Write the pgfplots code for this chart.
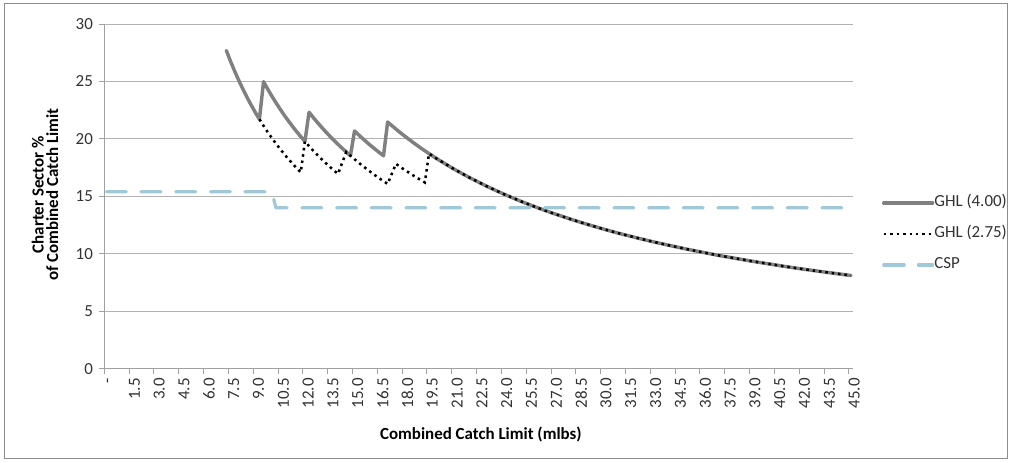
\documentclass[border=0pt]{standalone}
\usepackage{fontspec}
\setmainfont{Carlito}
\usepackage{pgfplots}
\pgfplotsset{compat=1.18}

\definecolor{ghlgray}{RGB}{128,128,128}
\definecolor{cspblue}{RGB}{160,200,216}
\definecolor{gridgray}{RGB}{178,178,178}
\definecolor{axisgray}{RGB}{160,160,160}
\definecolor{framegray}{RGB}{140,140,140}
\definecolor{labelgray}{RGB}{50,50,50}

\newcommand{\chartfont}{\fontsize{12.7}{15}\selectfont}

\begin{document}
\begin{tikzpicture}
\path[use as bounding box] (0,0) rectangle (758.25pt,347.25pt);
\draw[framegray, line width=0.75pt] (3pt,3pt) rectangle (755.25pt,344.25pt);
\begin{axis}[
  at={(78.23pt,70.73pt)}, anchor=south west,
  scale only axis, width=561.5pt, height=258.5pt,
  xmin=-0.125, xmax=45.125, ymin=0, ymax=30,
  axis x line*=bottom, axis y line*=left,
  axis line style={axisgray, line width=0.75pt},
  tick align=outside, major tick length=3.75pt,
  tick style={axisgray, line width=0.75pt},
  xtick={-0.125,1.375,2.875,4.375,5.875,7.375,8.875,10.375,11.875,13.375,14.875,
         16.375,17.875,19.375,20.875,22.375,23.875,25.375,26.875,28.375,29.875,
         31.375,32.875,34.375,35.875,37.375,38.875,40.375,41.875,43.375,44.875},
  xticklabels={-,1.5,3.0,4.5,6.0,7.5,9.0,10.5,12.0,13.5,15.0,16.5,18.0,19.5,21.0,
               22.5,24.0,25.5,27.0,28.5,30.0,31.5,33.0,34.5,36.0,37.5,39.0,40.5,
               42.0,43.5,45.0},
  ytick={0,5,10,15,20,25,30},
  yticklabels={0,5,10,15,20,25,30},
  ymajorgrids, grid style={gridgray, line width=0.75pt},
  tick label style={font=\chartfont, text=labelgray},
  xticklabel style={xshift=4pt, rotate=90, anchor=east},
  yticklabel style={anchor=east, xshift=-1.3pt},
  xlabel={Combined Catch Limit (mlbs)},
  ylabel={Charter Sector \%\\of Combined Catch Limit},
  label style={font=\fontsize{12.7}{11}\selectfont\bfseries, text=black},
  xlabel style={at={(axis description cs:0.503,-0.1923)}, anchor=center},
  ylabel style={at={(axis description cs:-0.0792,0.505)}, anchor=center, align=center},
  legend style={at={(axis description cs:1.0387,0.391)}, anchor=west,
    draw=none, fill=none, inner sep=0pt, font=\chartfont, text=labelgray,
    nodes={inner sep=0pt, text height=9pt, text depth=3pt},
    row sep=11.25pt},
  legend cell align=left,
  legend image code/.code={\path (0pt,0pt) -- (36.5pt,0pt);
    \draw[#1] (0pt,0pt) -- (34pt,0pt);},
]
% guideline harvest level at 4.00 tier
\addplot[ghlgray, line width=2.6pt, line join=round, line cap=round] coordinates {
(7.25,27.70)(7.5,26.77)(7.75,25.91)(8.0,25.10)(8.25,24.34)(8.5,23.62)(8.75,22.95)
(9.0,22.31)(9.25,21.71)
(9.5,24.98)(9.75,24.34)(10.0,23.73)(10.25,23.15)(10.5,22.60)(10.75,22.07)(11.0,21.57)
(11.25,21.09)(11.5,20.63)(11.75,20.20)(12.0,19.78)
(12.25,22.32)(12.5,21.87)(12.75,21.44)(13.0,21.03)(13.25,20.63)(13.5,20.25)(13.75,19.88)
(14.0,19.53)(14.25,19.19)(14.5,18.86)(14.75,18.54)
(15.0,20.69)(15.25,20.35)(15.5,20.02)(15.75,19.70)(16.0,19.39)(16.25,19.10)(16.5,18.81)
(16.75,18.53)
(17.0,21.47)(17.25,21.16)(17.5,20.86)(17.75,20.56)(18.0,20.28)(18.5,19.73)(19.0,19.21)
(19.5,18.72)(20.0,18.25)(21.0,17.38)(22.0,16.59)(23.0,15.87)(24.0,15.21)(25.0,14.60)
(26.0,14.04)(27.0,13.52)(28.0,13.04)(29.0,12.59)(30.0,12.17)(31.0,11.77)(32.0,11.41)
(33.0,11.06)(34.0,10.74)(35.0,10.43)(36.0,10.14)(37.0,9.86)(38.0,9.61)(39.0,9.36)
(40.0,9.13)(41.0,8.90)(42.0,8.69)(43.0,8.49)(44.0,8.30)(45.0,8.11)
};
\addlegendentry{GHL (4.00)}
% guideline harvest level at 2.75 tier
\addplot[black, line width=1.9pt, line cap=butt, dash pattern=on 1.9pt off 2.9pt] coordinates {
(9.25,21.71)(9.5,21.14)(9.75,20.59)(10.0,20.08)(10.25,19.59)(10.5,19.12)(10.75,18.68)
(11.0,18.25)(11.25,17.85)(11.5,17.46)(11.75,17.09)
(12.0,19.78)(12.25,19.37)(12.5,18.98)(12.75,18.61)(13.0,18.25)(13.25,17.91)(13.5,17.58)
(13.75,17.26)(14.0,16.95)
(14.5,18.86)(14.75,18.54)(15.0,18.23)(15.25,17.93)(15.5,17.64)(15.75,17.36)(16.0,17.09)
(16.25,16.82)(16.5,16.57)(16.75,16.32)(17.0,16.08)
(17.5,17.83)(17.75,17.58)(18.0,17.33)(18.25,17.10)(18.5,16.86)(18.75,16.64)(19.0,16.42)
(19.25,16.21)
(19.5,18.72)(20.0,18.25)(21.0,17.38)(22.0,16.59)(23.0,15.87)(24.0,15.21)(25.0,14.60)
(26.0,14.04)(27.0,13.52)(28.0,13.04)(29.0,12.59)(30.0,12.17)(31.0,11.77)(32.0,11.41)
(33.0,11.06)(34.0,10.74)(35.0,10.43)(36.0,10.14)(37.0,9.86)(38.0,9.61)(39.0,9.36)
(40.0,9.13)(41.0,8.90)(42.0,8.69)(43.0,8.49)(44.0,8.30)(45.0,8.11)
};
\addlegendentry{GHL (2.75)}
% catch sharing plan allocation
\addplot[cspblue, line width=2.4pt, line cap=round, line join=round,
         dash pattern=on 15pt off 11pt] coordinates {
(0,15.4)(10.0,15.4)(10.25,14.0)(45.0,14.0)
};
\addlegendentry{CSP}
\end{axis}
\end{tikzpicture}
\end{document}
